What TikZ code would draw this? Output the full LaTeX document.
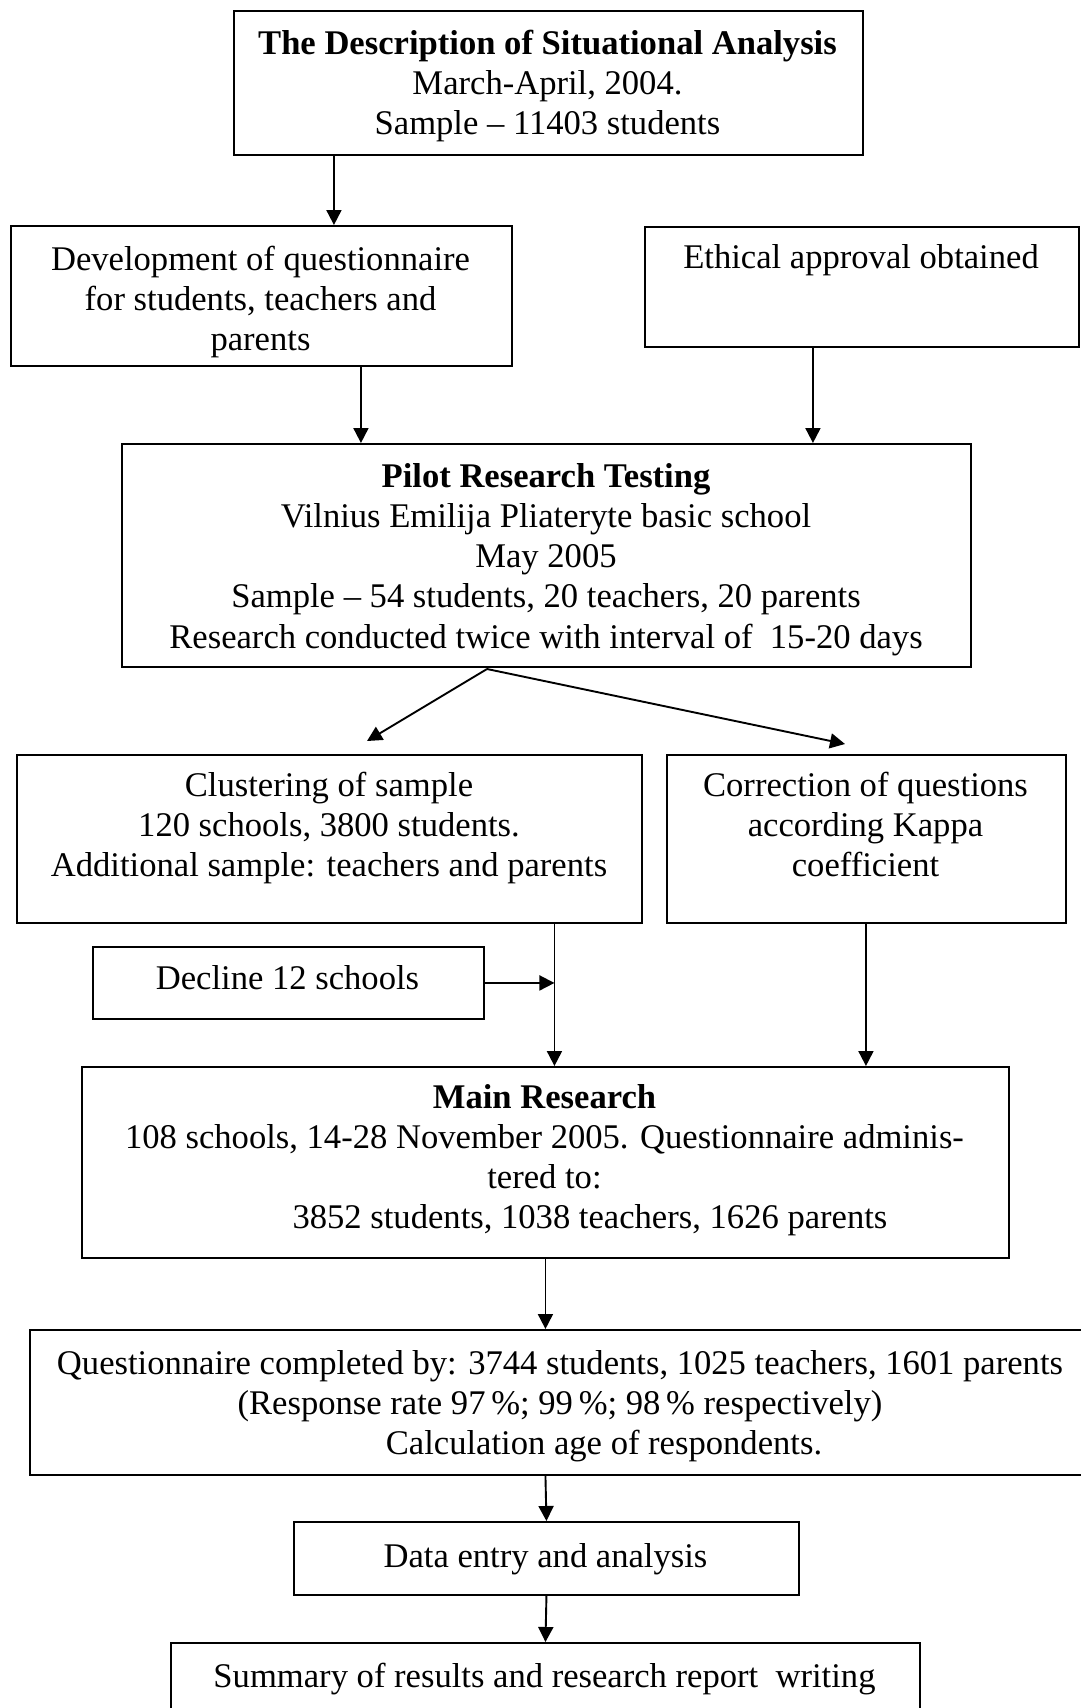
\documentclass[tikz,border=0pt]{standalone}
\usepackage{fontspec}
\setmainfont{Liberation Serif}
\usetikzlibrary{arrows.meta}
\tikzset{
  box/.style={draw, line width=1.9pt, inner sep=0pt, anchor=north west},
  txt/.style={anchor=north, align=center, inner sep=0pt, font=\fontsize{34.6}{40.2}\selectfont},
  arr/.style={line width=1.9pt, -{Triangle[length=15pt,width=15pt]}}
}
\begin{document}
\begin{tikzpicture}[x=1pt,y=-1pt]
\useasboundingbox (0,0) rectangle (1081,1708);
\clip (0,0) rectangle (1081,1708);
% boxes
\node[box, minimum width=629pt, minimum height=144pt] (b1) at (233,10) {};
\node[box, minimum width=501pt, minimum height=140pt] (b2) at (10,225) {};
\node[box, minimum width=434pt, minimum height=120pt] (b3) at (644,226) {};
\node[box, minimum width=849pt, minimum height=223pt] (b4) at (121,443) {};
\node[box, minimum width=625pt, minimum height=168pt] (b5) at (16,754) {};
\node[box, minimum width=399pt, minimum height=168pt] (b6) at (666,754) {};
\node[box, minimum width=391pt, minimum height=72pt] (b7) at (92,946) {};
\node[box, minimum width=927pt, minimum height=191pt] (b8) at (81,1066) {};
\node[box, minimum width=1060pt, minimum height=145pt] (b9) at (29,1329) {};
\node[box, minimum width=505pt, minimum height=73pt] (b10) at (293,1521) {};
\node[box, minimum width=749pt, minimum height=100pt] (b11) at (170,1642) {};
% texts
\node[txt] (t1) at (547.5,26) {\strut\textbf{The Description of Situational Analysis}\\March-April, 2004.\\Sample -- 11403 students};
\node[txt] (t2) at (260.5,242) {\strut Development of questionnaire\\for students, teachers and\\parents};
\node[txt] (t3) at (861,240) {\strut Ethical approval obtained};
\node[txt] (t4) at (546,459) {\strut\textbf{Pilot Research Testing}\\Vilnius Emilija Pliateryte basic school\\May 2005\\Sample -- 54 students, 20 teachers, 20 parents\\Research conducted twice with interval of~ 15-20 days};
\node[txt] (t5) at (329,768) {\strut Clustering of sample\\120 schools, 3800 students.\\Additional sample: teachers and parents};
\node[txt] (t6) at (865.5,768) {\strut Correction of questions\\according Kappa\\coefficient};
\node[txt] (t7) at (287.5,961) {\strut Decline 12 schools};
\node[txt] (t8) at (544.5,1080) {\strut\textbf{Main Research}\\108 schools, 14-28 November 2005. Questionnaire adminis-\\tered to:\\\hspace*{91pt}3852 students, 1038 teachers, 1626 parents};
\node[txt] (t9) at (560,1346) {\strut Questionnaire completed by: 3744 students, 1025 teachers, 1601 parents\\(Response rate 97\,\%; 99\,\%; 98\,\% respectively)\\\hspace*{88pt}Calculation age of respondents.};
\node[txt] (t10) at (545.5,1539) {\strut Data entry and analysis};
\node[txt] (t11) at (544.5,1659) {\strut Summary of results and research report~ writing};
% connectors
\draw[arr] ([xshift=-214.5pt]b1.south) -- ([xshift=-214.5pt]b1.south |- b2.north);
\draw[arr] ([xshift=99.5pt]b2.south) -- ([xshift=99.5pt]b2.south |- b4.north);
\draw[arr] ([xshift=-49pt]b3.south) -- ([xshift=-49pt]b3.south |- b4.north);
\coordinate (split) at (487,669);
\coordinate (tipL) at (367,741);
\coordinate (tipR) at (845,744);
\draw[arr] (split) -- (tipL);
\draw[arr] (split) -- (tipR);
\coordinate (c5) at ([xshift=225pt]b5.south);
\draw[arr] (c5) -- (c5 |- b8.north);
\draw[arr] (b7.east) -- (b7.east -| c5);
\draw[arr] ([xshift=-0.5pt]b6.south) -- ([xshift=-0.5pt]b6.south |- b8.north);
\draw[arr] (b8.south) -- (b8.south |- b9.north);
\draw[arr] (b8.south |- b9.south) -- (b10.north);
\draw[arr] (b10.south) -- (b11.north);
\end{tikzpicture}
\end{document}
